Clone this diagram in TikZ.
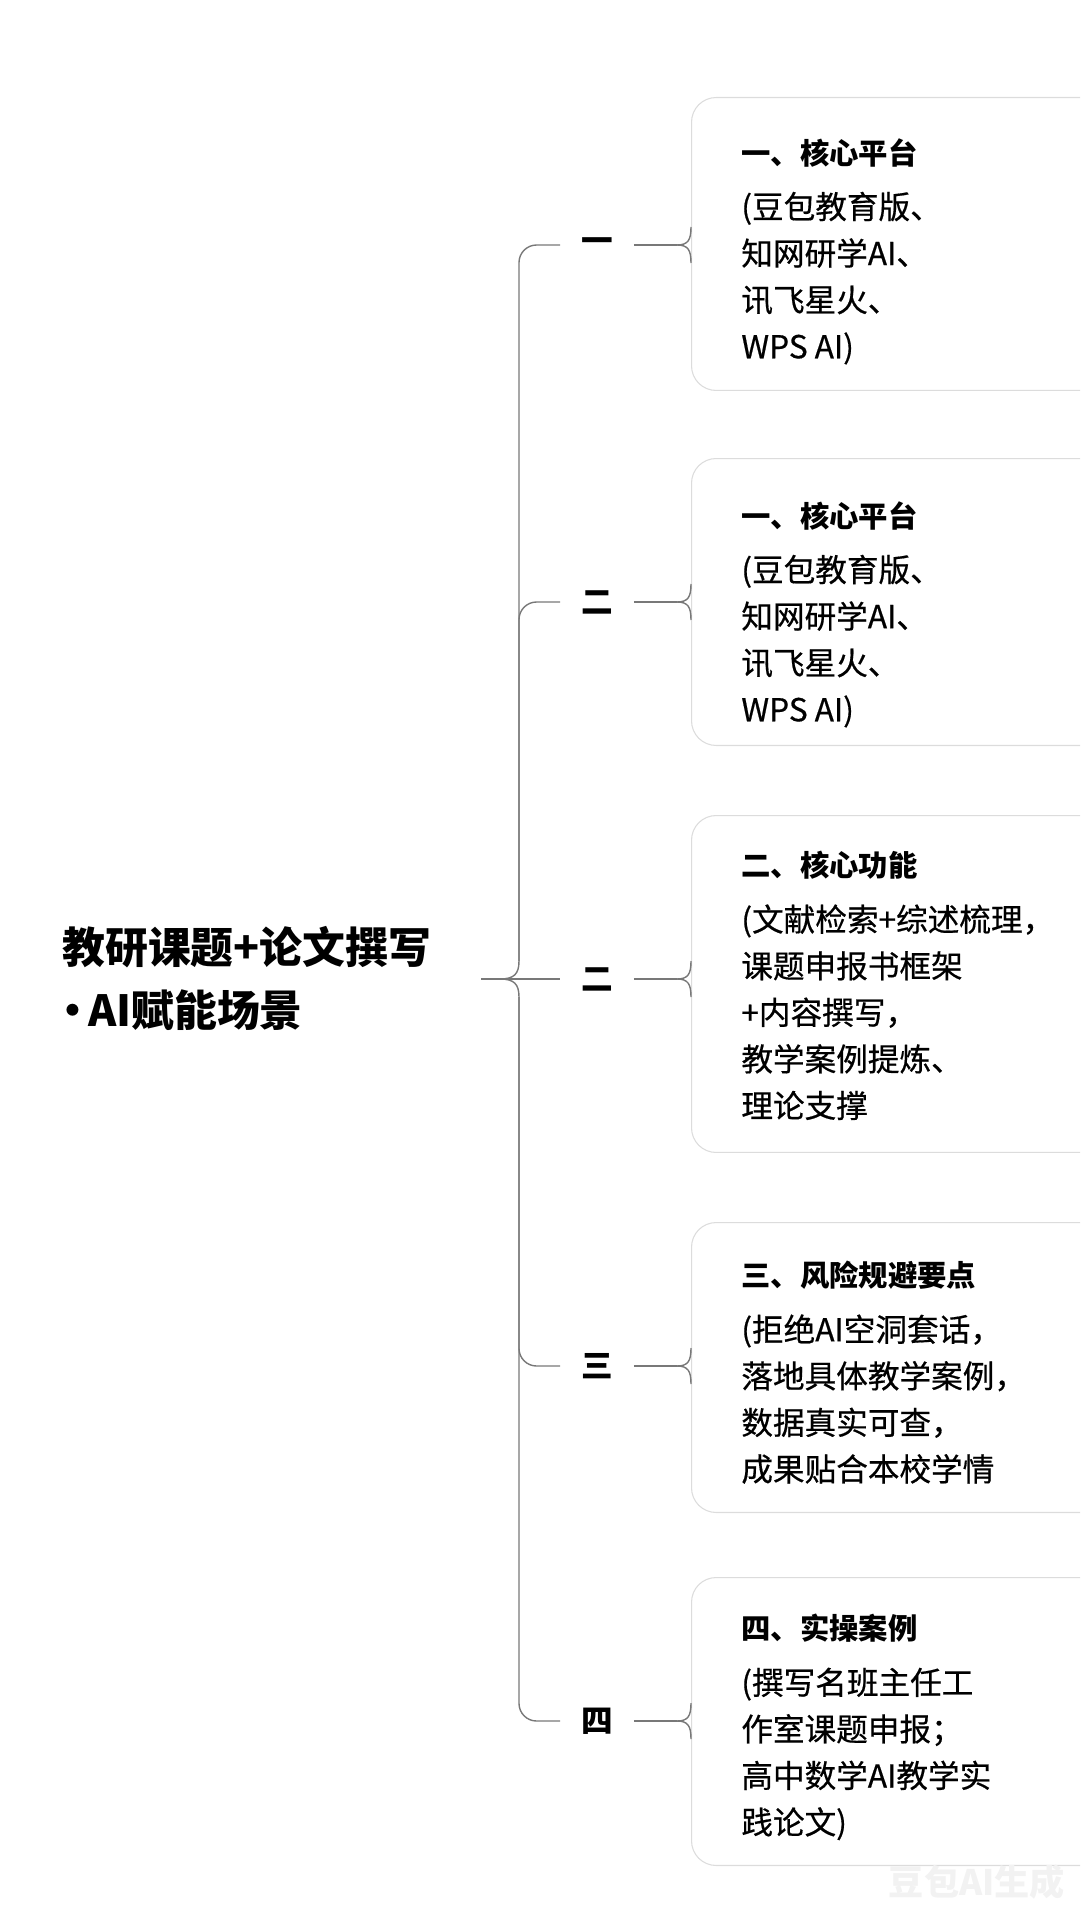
\documentclass[tikz,border=0pt]{standalone}
\usepackage{fontspec}
\setmainfont{Noto Sans CJK SC}
\newfontfamily\bodyfont{Noto Sans CJK SC}[FakeBold=0.5]
\usepackage{xcolor}

\definecolor{linegray}{HTML}{787878}
\definecolor{boxgray}{HTML}{DCDCDC}

\begin{document}
\begin{tikzpicture}[x=0.02cm, y=-0.02cm,
  link/.style={draw=linegray, line width=0.8pt},
  card/.style={draw=boxgray, line width=0.6pt, fill=white, rounded corners=14pt,
    minimum width=8.4cm, anchor=north west, inner sep=0pt},
  cardtext/.style={anchor=north west, align=left, inner sep=0pt,
    font=\bodyfont\fontsize{18}{26.5}\selectfont},
  num/.style={font=\fontsize{18}{20}\selectfont\bfseries, minimum width=1.46cm, inner sep=0pt}]

\newcommand\cardtitle[1]{{\normalfont\fontsize{16.7}{26.5}\selectfont\bfseries #1}}

\useasboundingbox (0,0) rectangle (1080,1922);
\clip (0,0) rectangle (1080,1922);

% Tema central
\node[anchor=north west, align=left, inner sep=0pt,
  font=\fontsize{24.4}{35.7}\selectfont\bfseries] (root) at (62,926)
  {教研课题+论文撰写\\\kern-0.25em·\kern-0.15em AI赋能场景};

% Tarjetas de la derecha
\node[card, minimum height=5.86cm] (b1) at (691,97) {};
\node[card, minimum height=5.74cm] (b2) at (691,458) {};
\node[card, minimum height=6.74cm] (b3) at (691,815) {};
\node[card, minimum height=5.80cm] (b4) at (691,1222) {};
\node[card, minimum height=5.76cm] (b5) at (691,1577) {};

\node[cardtext] (c1) at (741,138)
  {\cardtitle{一、核心平台}\\[4.5pt](豆包教育版、\\知网研学AI、\\讯飞星火、\\WPS AI)};
\node[cardtext] (c2) at (741,501)
  {\cardtitle{一、核心平台}\\[4.5pt](豆包教育版、\\知网研学AI、\\讯飞星火、\\WPS AI)};
\node[cardtext] (c3) at (741,851)
  {\cardtitle{二、核心功能}\\[4.5pt](文献检索+综述梳理，\\课题申报书框架\\+内容撰写，\\教学案例提炼、\\理论支撑};
\node[cardtext] (c4) at (741,1261)
  {\cardtitle{三、风险规避要点}\\[4.5pt](拒绝AI空洞套话，\\落地具体教学案例，\\数据真实可查，\\成果贴合本校学情};
\node[cardtext] (c5) at (741,1614)
  {\cardtitle{四、实操案例}\\[4.5pt](撰写名班主任工\\作室课题申报；\\高中数学AI教学实\\践论文)};

% Etiquetas de las ramas
\node[num] (n1) at (597,245) {一};
\node[num] (n2) at (597,602) {二};
\node[num] (n3) at (597,979) {二};
\node[num] (n4) at (597,1366) {三};
\node[num] (n5) at (597,1721) {四};

% Llave central
\coordinate (rootend) at (481,979);
\coordinate (cusp) at (500,979);
\coordinate (up) at (519,961);
\coordinate (down) at (519,997);
\draw[link] (rootend) -- (n3.west);
\draw[link] (cusp) .. controls (514,979) and (519,974) .. (up);
\draw[link] (cusp) .. controls (514,979) and (519,984) .. (down);

% Tronco y ramas
\draw[link, rounded corners=10pt] (up) |- (n1.west);
\draw[link, rounded corners=10pt] (up) |- (n2.west);
\draw[link, rounded corners=10pt] (down) |- (n4.west);
\draw[link, rounded corners=10pt] (down) |- (n5.west);

% Llaves hacia las tarjetas
\foreach \i/\y in {1/245, 2/602, 3/979, 4/1366, 5/1721} {
  \coordinate (t\i) at (677,\y);
  \draw[link] (n\i.east) -- (t\i);
  \draw[link] (t\i) .. controls (688,\y) and (691,\y-5) .. (691,\y-18);
  \draw[link] (t\i) .. controls (688,\y) and (691,\y+5) .. (691,\y+18);
}

% Marca de agua
\node[text=gray!10, font=\fontsize{20}{22}\selectfont\bfseries, inner sep=0pt] (mark) at (977,1882) {豆包AI生成};

\end{tikzpicture}
\end{document}
